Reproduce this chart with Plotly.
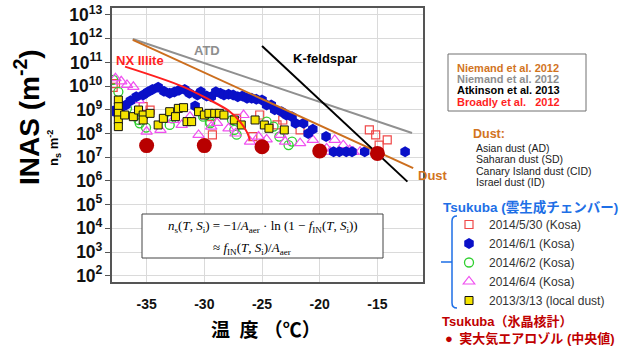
import plotly.graph_objects as go

# ---------------- data ----------------
y_tick_exponents = list(range(2, 14))
x_tick_vals = [-35, -30, -25, -20, -15]
x_tick_text = ["-35", "-30", "-25", "-20", "-15"]

# Tsukuba cloud chamber, 2014/5/30 (Kosa) - log10(ns)
t_0530 = [-37.9, -37.7, -35.3, -34.7, -29.4, -29.3, -27.2, -25.8, -25.2, -23.7,
          -23.2, -21.7, -15.7, -15.15, -14.15, -14.85]
log_0530 = [9.95, 10.1, 9.13, 8.99, 8.71, 7.94, 8.64, 7.87, 8.78, 8.36,
            8.57, 8.15, 8.15, 7.94, 7.73, 7.51]

# 2014/6/1 (Kosa)
t_0601 = [-37.9, -37.3, -36.8, -36.4, -35.9, -35.3, -34.9, -34.5, -34.0, -33.5,
          -33.0, -32.6, -32.2, -31.7, -31.3, -30.8, -30.6, -30.3, -29.8, -29.4,
          -29.0, -28.6, -28.3, -27.9, -27.5, -27.1, -26.7, -26.3, -25.9, -25.5,
          -25.0, -24.6, -24.2, -23.9, -23.3, -22.9, -22.4, -22.1, -21.4, -21.0,
          -20.6, -19.45, -18.8, -18.3, -17.7, -17.2, -16.1, -12.6]
log_0601 = [8.95, 9.05, 9.2, 9.38, 9.55, 9.62, 9.75, 9.86, 9.95, 9.78,
            9.70, 9.75, 9.82, 9.86, 9.70, 9.16, 9.62, 9.76, 9.58, 9.55,
            9.76, 9.70, 9.62, 9.66, 9.62, 9.55, 9.58, 9.49, 9.49, 9.45,
            9.41, 9.2, 9.2, 9.0, 8.92, 8.78, 8.71, 8.43, 8.43, 8.0,
            8.18, 7.87, 7.23, 7.23, 7.23, 7.23, 7.23, 7.23]

# 2014/6/2 (Kosa)
t_0602 = [-37.9, -37.45, -36.7, -35.7, -35.6, -35.05, -33.0, -32.8, -30.1, -29.5,
          -29.5, -27.6, -27.4, -27.2, -24.6, -24.0, -23.5, -22.7, -22.4]
log_0602 = [10.26, 9.76, 9.06, 8.57, 8.43, 8.25, 8.36, 8.64, 8.71, 8.5,
            8.43, 8.57, 8.15, 7.95, 8.5, 8.29, 7.87, 7.51, 7.66]

# 2014/6/4 (Kosa)
t_0604 = [-37.7, -37.2, -36.7, -36.15, -35.7, -35.0, -33.8, -32.7, -31.96, -31.24,
          -30.5, -29.4, -28.9, -27.9, -27.3, -26.6, -26.04, -25.3, -24.6, -23.4,
          -23.0, -21.7, -20.6, -19.4, -19.1, -18.7, -17.96, -17.4, -17.1, -16.5]
log_0604 = [10.33, 10.2, 10.05, 9.97, 9.41, 8.08, 8.15, 8.57, 8.36, 8.71,
            7.94, 8.29, 8.45, 8.22, 8.0, 8.78, 7.66, 7.87, 7.75, 7.94,
            7.66, 7.59, 7.73, 7.37, 7.23, 7.73, 7.51, 7.3, 7.23, 7.23]

# 2013/3/13 (local dust)
t_0313 = [-37.45, -37.45, -37.45, -37.45, -37.45, -36.9, -36.15, -35.7, -35.3, -35.3,
          -34.7, -34.0, -33.55, -33.0, -32.5, -32.25, -31.8, -31.5, -31.1, -30.5,
          -30.0, -29.6, -29.1, -28.7, -28.3, -27.4, -26.8, -25.6, -24.8, -24.4, -23.07]
log_0313 = [9.41, 9.13, 8.85, 8.57, 8.29, 8.78, 8.71, 8.99, 8.78, 8.57,
            8.85, 8.36, 8.64, 8.92, 8.71, 9.06, 9.09, 8.5, 8.5, 8.92,
            8.78, 8.85, 8.85, 8.85, 8.78, 8.57, 8.36, 8.57, 8.36, 8.22, 8.15]

# Tsukuba ice nucleus counter, ambient aerosol (median)
t_inc = [-35, -30, -25, -20, -15]
log_inc = [7.49, 7.49, 7.44, 7.26, 7.16]

# reference parameterisations
t_dust = [-36.2, -11.9]          # Niemand et al. 2012 (Dust)
log_dust = [11.95, 6.54]
t_atd = [-36.2, -12.0]           # Niemand et al. 2012 (ATD)
log_atd = [11.99, 8.02]
t_kfs = [-25.0, -12.4]           # Atkinson et al. 2013 (K-feldspar)
log_kfs = [11.69, 5.97]
t_illite = [-36.87, -31.82, -29.51, -27.78, -26.91, -26.33, -26.04]  # Broadly 2012
log_illite = [10.82, 9.97, 9.41, 8.92, 8.50, 8.08, 7.73]


def lin(v):
    return [10 ** e for e in v]


# ---------------- layout helpers ----------------
W, H = 630, 349
L, R, T, B = 112, 423, 8, 282


def px(x):
    return (x - L) / (R - L)


def py(y):
    return (B - y) / (B - T)


SANS = "Liberation Sans, Arial, Noto Sans CJK JP, sans-serif"
SERIF = "Liberation Serif, DejaVu Serif, serif"
ORANGE = "#D2741E"
GRAY = "#8E8E8E"
RED = "#FF1F1F"
BLUE = "#1E6FE6"
DARKRED = "#C00000"

fig = go.Figure()

fig.add_trace(go.Scatter(x=t_0530, y=lin(log_0530), mode="markers", name="2014/5/30 (Kosa)",
                         legendrank=1,
                         marker=dict(symbol="square-open", size=8, color="#F04848",
                                     line=dict(width=1.2, color="#F04848"))))
fig.add_trace(go.Scatter(x=t_0602, y=lin(log_0602), mode="markers", name="2014/6/2 (Kosa)",
                         legendrank=3,
                         marker=dict(symbol="circle-open", size=9, color="#30D030",
                                     line=dict(width=1.3, color="#30D030"))))
fig.add_trace(go.Scatter(x=t_0604, y=lin(log_0604), mode="markers", name="2014/6/4 (Kosa)",
                         legendrank=4,
                         marker=dict(symbol="triangle-up-open", size=10, color="#F050F0",
                                     line=dict(width=1.2, color="#F050F0"))))
fig.add_trace(go.Scatter(x=t_0601, y=lin(log_0601), mode="markers", name="2014/6/1 (Kosa)",
                         legendrank=2,
                         marker=dict(symbol="hexagon", size=11, color="#0A10C8",
                                     line=dict(width=0))))
fig.add_trace(go.Scatter(x=t_0313, y=lin(log_0313), mode="markers", name="2013/3/13 (local dust)",
                         legendrank=5,
                         marker=dict(symbol="square", size=8, color="#F5E400",
                                     line=dict(width=1, color="#111111"))))

for tx, ly, col in [(t_atd, log_atd, "#909090"), (t_dust, log_dust, "#CC6E1E"),
                    (t_kfs, log_kfs, "#000000")]:
    fig.add_trace(go.Scatter(x=tx, y=lin(ly), mode="lines", showlegend=False,
                             line=dict(color=col, width=2), hoverinfo="skip"))
fig.add_trace(go.Scatter(x=t_illite, y=lin(log_illite), mode="lines", showlegend=False,
                         line=dict(color=RED, width=2, shape="spline"), hoverinfo="skip"))

fig.add_trace(go.Scatter(x=t_inc, y=lin(log_inc), mode="markers", showlegend=False,
                         name="実大気エアロゾル (中央値)",
                         marker=dict(symbol="circle", size=15, color="#B80000",
                                     line=dict(width=0))))

fig.update_xaxes(range=[-38, -11.05], tickvals=x_tick_vals, ticktext=x_tick_text,
                 tickfont=dict(family=SANS, size=14, color="#111", weight="bold"),
                 ticks="", ticklabelstandoff=8,
                 showgrid=True, gridcolor="#DADADA", gridwidth=1, zeroline=False,
                 showline=True, linecolor="#555555", linewidth=1.5, mirror=True)
fig.update_yaxes(type="log", range=[1.734, 13.295],
                 tickmode="linear", tick0=y_tick_exponents[0], dtick=1,
                 exponentformat="power",
                 tickfont=dict(family=SANS, size=14, color="#111", weight="bold"),
                 ticks="outside", ticklen=5, tickcolor="#555555",
                 showgrid=True, gridcolor="#DADADA", gridwidth=1, zeroline=False,
                 showline=True, linecolor="#555555", linewidth=1.5, mirror=True)

ann = []


def text(x, y, s, size, color="#000", bold=False, anchor="left", family=SANS, angle=0):
    ann.append(dict(x=px(x), y=py(y), xref="paper", yref="paper", text=s, showarrow=False,
                    xanchor=anchor, yanchor="middle", textangle=angle,
                    font=dict(family=family, size=size, color=color,
                              weight="bold" if bold else "normal")))


# axis titles
text(27, 117, "INAS (m<sup>-2</sup>)", 28, "#000", True, "center", angle=-90)
text(54, 148, "n<sub>s</sub> m<sup>-2</sup>", 13, "#000", True, "center", angle=-90)
text(266, 330, "温\u2002度 （℃）", 19, "#000", True, "center")

# curve labels
text(114, 60, "NX Illite", 13, RED, True)
text(192, 50, "ATD", 13, GRAY, True)
text(291, 58, "K-feldspar", 13, "#000", True)
text(416, 175, "Dust", 13, ORANGE, True)

# formula
text(263, 226, "<i>n</i><sub>s</sub>(<i>T</i>, <i>S</i><sub>i</sub>) = \u22121/<i>A</i><sub>aer</sub>"
     " \u00b7 ln (1 \u2212 <i>f</i><sub>IN</sub>(<i>T</i>, <i>S</i><sub>i</sub>))",
     13, "#000", False, "center", family=SERIF)
text(252, 248, "\u2248 <i>f</i><sub>IN</sub>(<i>T</i>, <i>S</i><sub>i</sub>)/<i>A</i><sub>aer</sub>",
     13, "#000", False, "center", family=SERIF)

# reference box
text(455, 67.7, "Niemand et al. 2012", 11, ORANGE, True)
text(455, 79, "Niemand et al. 2012", 11, GRAY, True)
text(455, 90.3, "Atkinson et al. 2013", 11, "#000", True)
text(455, 101.5, "Broadly et al.\u00a0\u00a0\u00a02012", 11, RED, True)

text(471, 134, "Dust:", 12.5, ORANGE, True)
for yy, s in zip([147.7, 159.3, 170.7, 182.3],
                 ["Asian dust (AD)", "Saharan dust (SD)", "Canary Island dust (CID)",
                  "Israel dust (ID)"]):
    text(474, yy, s, 10.5, "#222")

text(441, 207, "Tsukuba (雲生成チェンバー)", 13.5, BLUE, True)
text(440, 321, "Tsukuba（氷晶核計）", 13, DARKRED, True)
text(443, 338, "●\u2002実大気エアロゾル (中央値)", 13, DARKRED, True)

shapes = [
    dict(type="rect", xref="paper", yref="paper", x0=px(142), x1=px(383), y0=py(258), y1=py(214),
         line=dict(color="#444444", width=1), fillcolor="white", layer="above"),
    dict(type="rect", xref="paper", yref="paper", x0=px(448), x1=px(586), y0=py(111), y1=py(54),
         line=dict(color="#707070", width=1), fillcolor="rgba(0,0,0,0)"),
    dict(type="path", xref="paper", yref="paper",
         path=(f"M {px(457)},{py(216)} Q {px(452)},{py(216)} {px(452)},{py(221)} "
               f"L {px(452)},{py(303)} Q {px(452)},{py(308)} {px(457)},{py(308)} "
               f"M {px(441)},{py(262)} L {px(452)},{py(262)}"),
         line=dict(color=BLUE, width=1.5)),
]

fig.update_layout(
    width=W, height=H,
    margin=dict(l=L, r=W - R, t=T, b=H - B, pad=0, autoexpand=False),
    paper_bgcolor="white", plot_bgcolor="white",
    font=dict(family=SANS, size=12, color="#222"),
    annotations=ann, shapes=shapes,
    legend=dict(x=px(449), y=py(210), xanchor="left", yanchor="top",
                font=dict(family=SANS, size=12, color="#333"),
                bgcolor="rgba(0,0,0,0)", itemsizing="trace", tracegroupgap=0,
                itemclick=False),
)

fig.write_html("out.html", config={"displayModeBar": False},
               post_script="document.body.style.margin='0';document.body.style.overflow='hidden';")
